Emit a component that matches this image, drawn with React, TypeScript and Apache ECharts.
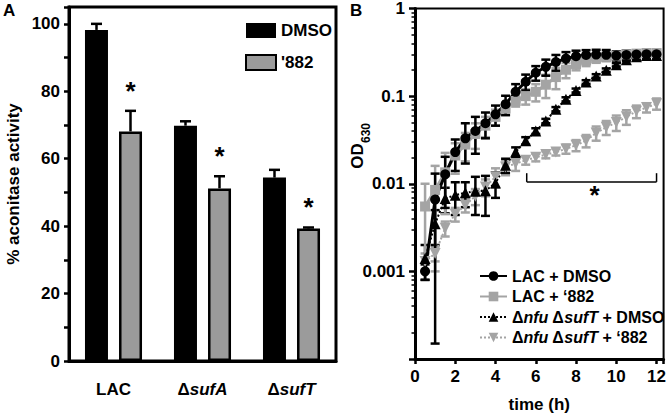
import React, { useEffect, useRef } from 'react';
import * as echarts from 'echarts';

const FONT = '"Liberation Sans", Arial, Helvetica, sans-serif';
const GREY = '#9b9b9b';
const GREY_LINE = '#a4a4a4';

// ---------- Panel A data ----------
const categoriesA = ['LAC', 'ΔsufA', 'ΔsufT'];
const dmsoA = [98.2, 69.8, 54.4];
const dmsoErrA = [1.8, 1.3, 2.3];
const cmpdA = [68.1, 51.2, 39.3];
const cmpdErrA = [6.1, 3.6, 0.3];
const sigA = [true, true, true];
const legendA = ['DMSO', "'882"];
const ticksA = [0, 20, 40, 60, 80, 100];

// ---------- Panel B data ----------
const timeB = [0.5, 1, 1.5, 2, 2.5, 3, 3.5, 4, 4.5, 5, 5.5, 6, 6.5, 7, 7.5, 8, 8.5, 9, 9.5, 10, 10.5, 11, 11.5, 12];
const lacDmso = [0.001, 0.0066, 0.0128, 0.023, 0.033, 0.04, 0.049, 0.062, 0.081, 0.112, 0.146, 0.185, 0.216, 0.245, 0.268, 0.285, 0.295, 0.298, 0.296, 0.29, 0.295, 0.298, 0.3, 0.3];
const lacDmsoSd = [0.0002, 0.00645, 0.0075, 0.009, 0.016, 0.018, 0.016, 0.016, 0.02, 0.025, 0.03, 0.035, 0.045, 0.05, 0.05, 0.045, 0.04, 0.04, 0.04, 0.035, 0.035, 0.03, 0.03, 0.03];
const lac882 = [0.0055, 0.0085, 0.0135, 0.021, 0.028, 0.037, 0.046, 0.058, 0.072, 0.088, 0.1, 0.112, 0.135, 0.165, 0.2, 0.232, 0.255, 0.27, 0.28, 0.29, 0.3, 0.305, 0.31, 0.31];
const lac882Sd = [0.0045, 0.0075, 0.009, 0.008, 0.01, 0.012, 0.012, 0.012, 0.012, 0.012, 0.02, 0.025, 0.04, 0.045, 0.04, 0.035, 0.035, 0.03, 0.03, 0.03, 0.03, 0.03, 0.03, 0.025];
const nfuDmso = [0.0014, 0.0035, 0.0068, 0.0074, 0.0079, 0.0082, 0.0083, 0.0102, 0.0163, 0.023, 0.031, 0.04, 0.052, 0.071, 0.092, 0.116, 0.145, 0.17, 0.198, 0.228, 0.26, 0.282, 0.29, 0.29];
const nfuDmsoSd = [0.0006, 0.0015, 0.0022, 0.003, 0.0025, 0.0038, 0.004, 0.0033, 0.003, 0.003, 0.003, 0.003, 0.003, 0.004, 0.005, 0.006, 0.007, 0.008, 0.009, 0.01, 0.01, 0.01, 0.01, 0.01];
const nfu882 = [0.0013, 0.0016, 0.0031, 0.0045, 0.0057, 0.0072, 0.0092, 0.012, 0.0155, 0.017, 0.0185, 0.02, 0.0215, 0.023, 0.025, 0.0275, 0.031, 0.038, 0.044, 0.05, 0.058, 0.067, 0.074, 0.082];
const nfu882Sd = [0.0003, 0.0003, 0.0006, 0.0008, 0.001, 0.0015, 0.002, 0.003, 0.003, 0.003, 0.002, 0.002, 0.002, 0.002, 0.003, 0.004, 0.005, 0.007, 0.008, 0.01, 0.011, 0.011, 0.009, 0.012];
const namesB = ['LAC + DMSO', 'LAC + ‘882', 'Δnfu ΔsufT + DMSO', 'Δnfu ΔsufT + ‘882'];
const yTicksB = ['1', '0.1', '0.01', '0.001'];
// significance bracket: [from time, to time, level OD, tip OD]
const bracketB = [5.55, 12, 0.0105, 0.0132];

const BAR_W = 23;
const BAR_OFF = 17;
const Y_MIN_B = 0.0001;

function errA(vals: number[], errs: number[], off: number, stars: boolean) {
  return {
    type: 'custom',
    xAxisIndex: 0,
    yAxisIndex: 0,
    z: 5,
    data: vals.map((v, i) => [i, v, errs[i], stars && sigA[i] ? 1 : 0]),
    renderItem: (params: any, api: any) => {
      const i = api.value(0);
      const v = api.value(1);
      const e = api.value(2);
      const base = api.coord([i, v]);
      const top = api.coord([i, v + e]);
      const x = base[0] + off;
      const st = { stroke: '#000', lineWidth: 2.5 };
      const children: any[] = [
        { type: 'line', shape: { x1: x, y1: base[1], x2: x, y2: top[1] }, style: st },
        { type: 'line', shape: { x1: x - 5.5, y1: top[1], x2: x + 5.5, y2: top[1] }, style: st },
      ];
      if (api.value(3)) {
        children.push({
          type: 'text',
          style: {
            x, y: top[1] - 20, text: '*', fill: '#000',
            font: `bold 26px ${FONT}`, align: 'center', verticalAlign: 'middle',
          },
        });
      }
      return { type: 'group', children };
    },
  };
}

function errB(vals: number[], sds: number[], color: string) {
  return {
    type: 'custom',
    xAxisIndex: 1,
    yAxisIndex: 1,
    silent: true,
    data: vals.map((v, i) => [timeB[i], v, sds[i]]),
    renderItem: (params: any, api: any) => {
      const t = api.value(0);
      const v = api.value(1);
      const sd = api.value(2);
      const hi = api.coord([t, v + sd]);
      const lo = api.coord([t, Math.max(v - sd, Y_MIN_B)]);
      const x = hi[0];
      const st = { stroke: color, lineWidth: 2.5 };
      return {
        type: 'group',
        children: [
          { type: 'line', shape: { x1: x, y1: hi[1], x2: x, y2: lo[1] }, style: st },
          { type: 'line', shape: { x1: x - 4.5, y1: hi[1], x2: x + 4.5, y2: hi[1] }, style: st },
          { type: 'line', shape: { x1: x - 4.5, y1: lo[1], x2: x + 4.5, y2: lo[1] }, style: st },
        ],
      };
    },
  };
}

function lineB(name: string, vals: number[], color: string, symbol: string, dotted: boolean, rotate = 0) {
  return {
    type: 'line',
    name,
    xAxisIndex: 1,
    yAxisIndex: 1,
    data: vals.map((v, i) => [timeB[i], v]),
    symbol,
    symbolSize: symbol === 'triangle' ? 11 : 10,
    symbolRotate: rotate,
    showAllSymbol: true,
    itemStyle: { color },
    lineStyle: dotted ? { color, width: 2, type: 'dotted' } : { color, width: 3 },
    z: 3,
  };
}

const axisFont = { fontFamily: FONT, fontSize: 17, fontWeight: 'bold', color: '#000' };

const option: any = {
  animation: false,
  backgroundColor: '#fff',
  textStyle: { fontFamily: FONT },
  grid: [
    { left: 69, top: 7, width: 267, height: 354, show: true, borderColor: '#000', borderWidth: 3 },
    { left: 415, top: 8, width: 250, height: 356, show: true, borderColor: '#000', borderWidth: 2 },
  ],
  legend: [
    {
      left: 240, top: 17, orient: 'vertical', itemWidth: 30, itemHeight: 15, itemGap: 15,
      icon: 'rect', data: legendA, textStyle: { ...axisFont, fontSize: 17 },
    },
    {
      left: 474, top: 263, orient: 'vertical', itemWidth: 27, itemHeight: 12, itemGap: 4.5,
      data: namesB,
      formatter: (n: string) => n.replace('nfu', '{i|nfu}').replace('sufT', '{i|sufT}'),
      textStyle: {
        ...axisFont, fontSize: 16,
        rich: { i: { fontFamily: FONT, fontSize: 16, fontWeight: 'bold', fontStyle: 'italic', color: '#000' } },
      },
    },
  ],
  xAxis: [
    {
      type: 'category', gridIndex: 0, data: categoriesA,
      axisLine: { lineStyle: { color: '#000', width: 3 } },
      axisTick: { alignWithLabel: true, length: 6, lineStyle: { width: 3, color: '#000' } },
      axisLabel: {
        margin: 20,
        formatter: (v: string) => (v.startsWith('Δ') ? `{b|Δ}{i|${v.slice(1)}}` : `{b|${v}}`),
        rich: {
          b: { fontFamily: FONT, fontSize: 17, fontWeight: 'bold', color: '#000' },
          i: { fontFamily: FONT, fontSize: 17, fontWeight: 'bold', fontStyle: 'italic', color: '#000' },
        },
      },
      splitLine: { show: false },
    },
    {
      type: 'value', gridIndex: 1, min: 0, max: 12.35, interval: 2,
      axisLine: { lineStyle: { color: '#000', width: 3 } },
      axisTick: { length: 5, lineStyle: { width: 2.5, color: '#000' } },
      axisLabel: {
        ...axisFont, margin: 9,
        formatter: (v: number) => (v % 2 === 0 && v <= 12 ? String(v) : ''),
      },
      splitLine: { show: false },
      name: 'time (h)', nameLocation: 'middle', nameGap: 37,
      nameTextStyle: { ...axisFont },
    },
  ],
  yAxis: [
    {
      type: 'value', gridIndex: 0, min: 0, max: 105, interval: 10,
      axisLine: { show: true, lineStyle: { color: '#000', width: 3 } },
      axisTick: { show: true, length: 5, lineStyle: { width: 2.5, color: '#000' } },
      axisLabel: {
        ...axisFont, margin: 9,
        formatter: (v: number) => (ticksA.includes(v) ? String(v) : ''),
      },
      splitLine: { show: false },
      name: '% aconitase activity', nameLocation: 'middle', nameRotate: 90, nameGap: 47,
      nameTextStyle: { ...axisFont, fontSize: 17 },
    },
    {
      type: 'log', gridIndex: 1, logBase: 10, min: Y_MIN_B, max: 1,
      axisLine: { show: true, lineStyle: { color: '#000', width: 3 } },
      axisTick: { show: true, length: 6, lineStyle: { width: 2.5, color: '#000' } },
      minorTick: { show: true, splitNumber: 9, length: 3.5, lineStyle: { width: 1.5, color: '#000' } },
      axisLabel: {
        ...axisFont, margin: 10,
        formatter: (v: number) => {
          const e = Math.round(-Math.log10(v));
          return e >= 0 && e < yTicksB.length ? yTicksB[e] : '';
        },
      },
      splitLine: { show: false },
      minorSplitLine: { show: false },
    },
  ],
  graphic: [
    { type: 'text', left: 3, top: 2, style: { text: 'A', font: `bold 17px ${FONT}`, fill: '#000' } },
    { type: 'text', left: 350, top: 2, style: { text: 'B', font: `bold 17px ${FONT}`, fill: '#000' } },
    {
      type: 'text', x: 357, y: 156, rotation: Math.PI / 2,
      style: { text: 'OD', font: `bold 17px ${FONT}`, fill: '#000', align: 'center', verticalAlign: 'middle' },
    },
    {
      type: 'text', x: 366, y: 133, rotation: Math.PI / 2,
      style: { text: '630', font: `bold 12px ${FONT}`, fill: '#000', align: 'center', verticalAlign: 'middle' },
    },
  ],
  series: [
    {
      type: 'bar', name: 'DMSO', xAxisIndex: 0, yAxisIndex: 0, data: dmsoA,
      barWidth: BAR_W, barGap: '48%',
      itemStyle: { color: '#000', borderColor: '#000', borderWidth: 0 },
    },
    {
      type: 'bar', name: "'882", xAxisIndex: 0, yAxisIndex: 0, data: cmpdA,
      barWidth: BAR_W, barGap: '48%',
      itemStyle: { color: GREY, borderColor: '#000', borderWidth: 2.5 },
    },
    errA(dmsoA, dmsoErrA, -BAR_OFF, false),
    errA(cmpdA, cmpdErrA, BAR_OFF, true),
    errB(nfu882, nfu882Sd, GREY_LINE),
    lineB(namesB[3], nfu882, GREY_LINE, 'triangle', true, 180),
    errB(nfuDmso, nfuDmsoSd, '#000'),
    lineB(namesB[2], nfuDmso, '#000', 'triangle', true),
    errB(lac882, lac882Sd, GREY_LINE),
    lineB(namesB[1], lac882, GREY_LINE, 'rect', false),
    errB(lacDmso, lacDmsoSd, '#000'),
    lineB(namesB[0], lacDmso, '#000', 'circle', false),
    {
      type: 'custom', xAxisIndex: 1, yAxisIndex: 1, silent: true,
      data: [bracketB],
      renderItem: (params: any, api: any) => {
        const a = api.coord([api.value(0), api.value(2)]);
        const b = api.coord([api.value(1), api.value(2)]);
        const tipY = api.coord([api.value(0), api.value(3)])[1];
        const st = { stroke: '#000', lineWidth: 1.5 };
        return {
          type: 'group',
          children: [
            { type: 'line', shape: { x1: a[0], y1: a[1], x2: b[0], y2: b[1] }, style: st },
            { type: 'line', shape: { x1: a[0], y1: a[1], x2: a[0], y2: tipY }, style: st },
            { type: 'line', shape: { x1: b[0], y1: b[1], x2: b[0], y2: tipY }, style: st },
            {
              type: 'text',
              style: {
                x: (a[0] + b[0]) / 2 + 3, y: a[1] + 13, text: '*', fill: '#000',
                font: `bold 26px ${FONT}`, align: 'center', verticalAlign: 'middle',
              },
            },
          ],
        };
      },
    },
  ],
};

export default function App() {
  const ref = useRef<HTMLDivElement>(null);
  useEffect(() => {
    const chart = echarts.init(ref.current as HTMLDivElement, null, { renderer: 'svg' });
    chart.setOption(option);
    return () => chart.dispose();
  }, []);
  return <div ref={ref} style={{ position: 'absolute', left: 0, top: 0, width: 669, height: 418 }} />;
}
